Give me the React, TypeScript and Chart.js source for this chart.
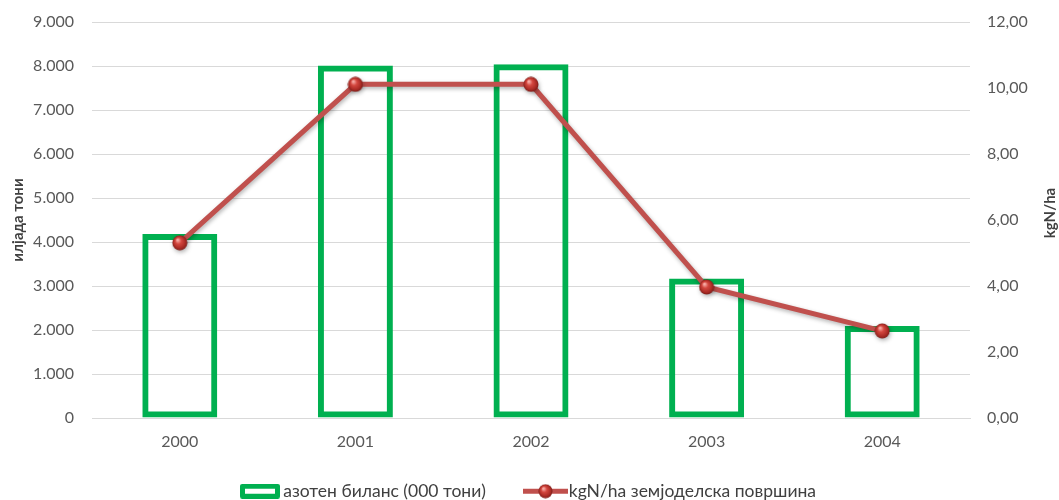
import React, { useEffect, useRef } from "react";
import { Chart, registerables } from "chart.js";

Chart.register(...registerables);

const categories = ["2000", "2001", "2002", "2003", "2004"];
const balanceValues = [4180, 8010, 8040, 3170, 2090];
const kgPerHaValues = [5.31, 10.11, 10.11, 3.97, 2.64];
const leftAxisRange = [0, 9000, 1000];
const rightAxisRange = [0, 12, 2];
const seriesLabels = ["азотен биланс (000 тони)", "kgN/ha земјоделска површина"];
const leftAxisTitle = "илјада тони";
const rightAxisTitle = "kgN/ha";

const FONT = "Lato, 'Noto Sans', sans-serif";
const GREEN = "#00B050";
const RED = "#C0504D";
const TEXT = "#595959";
const LEGEND_TEXT = "#404040";
const LEGEND_FONT_SIZE = 17.5;

function fmtThousands(v: number): string {
  return String(Math.round(v)).replace(/\B(?=(\d{3})+(?!\d))/g, ".");
}
function fmtDecimal(v: number): string {
  return v.toFixed(2).replace(".", ",");
}

function drawSphere(g: CanvasRenderingContext2D, cx: number, cy: number, r: number) {
  const grad = g.createRadialGradient(cx - r * 0.3, cy - r * 0.4, r * 0.1, cx, cy, r);
  grad.addColorStop(0, "#f6aaa4");
  grad.addColorStop(0.35, "#d4473f");
  grad.addColorStop(0.8, "#a82a24");
  grad.addColorStop(1, "#7a1c18");
  g.fillStyle = grad;
  g.beginPath();
  g.arc(cx, cy, r, 0, Math.PI * 2);
  g.fill();
}

function makeSphere(d: number): HTMLCanvasElement {
  const c = document.createElement("canvas");
  c.width = d;
  c.height = d;
  const g = c.getContext("2d")!;
  drawSphere(g, d / 2, d / 2, d / 2 - 0.5);
  return c;
}

function makeBarLegend(): HTMLCanvasElement {
  const c = document.createElement("canvas");
  c.width = 40;
  c.height = 15;
  const g = c.getContext("2d")!;
  g.strokeStyle = GREEN;
  g.lineWidth = 5;
  g.lineJoin = "round";
  g.strokeRect(2.5, 2.5, 35, 10);
  return c;
}

function makeLineLegend(): HTMLCanvasElement {
  const c = document.createElement("canvas");
  c.width = 45;
  c.height = 15;
  const g = c.getContext("2d")!;
  g.strokeStyle = RED;
  g.lineWidth = 5;
  g.beginPath();
  g.moveTo(0, 7.5);
  g.lineTo(45, 7.5);
  g.stroke();
  drawSphere(g, 22.5, 7.5, 7);
  return c;
}

export default function App() {
  const ref = useRef<HTMLCanvasElement | null>(null);

  useEffect(() => {
    document.body.style.margin = "0";
    const canvas = ref.current;
    if (!canvas) return;
    const sphere = makeSphere(16);
    const barLegend = makeBarLegend();
    const lineLegend = makeLineLegend();

    // legend geometry
    const f = LEGEND_FONT_SIZE;
    const boxW = 29;
    const firstItemX = 245.5;
    const secondItemX = 531;
    const mctx = document.createElement("canvas").getContext("2d")!;
    mctx.font = `${f}px ${FONT}`;
    const t1 = mctx.measureText(seriesLabels[0]).width;
    const legendPad = Math.max(4, secondItemX - (firstItemX + boxW + f / 2 + t1));
    const legendHeight = f + legendPad + 10;
    const bottomPad = -10;
    const xAxisHeight = 500 - bottomPad - 418 - legendHeight;

    const shadowPlugin = {
      id: "lineShadow",
      beforeDatasetDraw(chart: any, args: any) {
        if (args.index === 1) {
          const ctx = chart.ctx;
          ctx.save();
          ctx.shadowColor = "rgba(0,0,0,0.3)";
          ctx.shadowBlur = 4;
          ctx.shadowOffsetX = 1;
          ctx.shadowOffsetY = 2;
        }
      },
      afterDatasetDraw(chart: any, args: any) {
        if (args.index === 1) chart.ctx.restore();
      },
    };

    const layoutTweaks = {
      id: "layoutTweaks",
      afterLayout(chart: any) {
        if (chart.legend) {
          chart.legend.left = firstItemX - legendPad;
        }
        const x = chart.scales.x;
        if (x) {
          x.bottom = x.top + 45;
        }
      },
    };

    const rightTitle = {
      id: "rightTitle",
      afterDraw(chart: any) {
        const ctx = chart.ctx;
        const area = chart.chartArea;
        ctx.save();
        ctx.translate(1050, (area.top + area.bottom) / 2 - 7);
        ctx.rotate(-Math.PI / 2);
        ctx.font = `bold 15px ${FONT}`;
        ctx.fillStyle = "#404040";
        ctx.textAlign = "center";
        ctx.textBaseline = "middle";
        ctx.fillText(rightAxisTitle, 0, 0);
        ctx.restore();
      },
    };

    const chart = new Chart(canvas, {
      type: "bar",
      data: {
        labels: categories,
        datasets: [
          {
            type: "bar",
            label: seriesLabels[0],
            data: balanceValues,
            yAxisID: "y",
            backgroundColor: "rgba(0,0,0,0)",
            borderColor: GREEN,
            borderWidth: 6,
            borderSkipped: false,
            barPercentage: 0.427,
            categoryPercentage: 1,
            order: 2,
          } as any,
          {
            type: "line",
            label: seriesLabels[1],
            data: kgPerHaValues,
            yAxisID: "y1",
            borderColor: RED,
            borderWidth: 5,
            pointStyle: sphere,
            pointRadius: 8,
            tension: 0,
            order: 1,
          } as any,
        ],
      },
      options: {
        responsive: false,
        animation: false,
        layout: { padding: { top: 22, left: 0, right: 0, bottom: bottomPad } },
        plugins: {
          tooltip: { enabled: false },
          legend: {
            position: "bottom",
            align: "start",
            labels: {
              usePointStyle: true,
              pointStyleWidth: boxW,
              padding: legendPad,
              color: LEGEND_TEXT,
              font: { family: FONT, size: f },
              generateLabels: () => [
                {
                  text: seriesLabels[0],
                  pointStyle: barLegend,
                  fillStyle: "rgba(0,0,0,0)",
                  strokeStyle: "rgba(0,0,0,0)",
                  lineWidth: 0,
                  hidden: false,
                  datasetIndex: 0,
                  fontColor: LEGEND_TEXT,
                },
                {
                  text: seriesLabels[1],
                  pointStyle: lineLegend,
                  fillStyle: "rgba(0,0,0,0)",
                  strokeStyle: "rgba(0,0,0,0)",
                  lineWidth: 0,
                  hidden: false,
                  datasetIndex: 1,
                  fontColor: LEGEND_TEXT,
                },
              ],
            },
          },
        },
        scales: {
          x: {
            offset: true,
            grid: { display: false, drawTicks: false },
            border: { display: true, color: "#d9d9d9", width: 1 },
            ticks: { color: TEXT, font: { family: FONT, size: 16 }, padding: 14 },
            afterFit: (s: any) => {
              s.height = xAxisHeight;
            },
          },
          y: {
            position: "left",
            min: leftAxisRange[0],
            max: leftAxisRange[1],
            grid: { color: "#d9d9d9", lineWidth: 1, drawTicks: false },
            border: { display: false },
            ticks: {
              stepSize: leftAxisRange[2],
              color: TEXT,
              font: { family: FONT, size: 16 },
              padding: 18,
              callback: (v: any) => fmtThousands(Number(v)),
            },
            title: {
              display: true,
              text: leftAxisTitle,
              color: "#404040",
              font: { family: FONT, size: 15, weight: "bold" },
              padding: { top: 9, bottom: 0 },
            },
            afterFit: (s: any) => {
              s.width = 92;
              s.paddingTop = 5;
              s.paddingBottom = 5;
            },
          },
          y1: {
            position: "right",
            min: rightAxisRange[0],
            max: rightAxisRange[1],
            grid: { display: false, drawTicks: false },
            border: { display: false },
            ticks: {
              stepSize: rightAxisRange[2],
              color: TEXT,
              font: { family: FONT, size: 16 },
              padding: 17,
              callback: (v: any) => fmtDecimal(Number(v)),
            },
            afterFit: (s: any) => {
              s.width = 89;
              s.paddingTop = 5;
              s.paddingBottom = 5;
            },
          },
        },
      } as any,
      plugins: [shadowPlugin, layoutTweaks, rightTitle],
    });

    return () => chart.destroy();
  }, []);

  return (
    <div style={{ width: 1059, height: 500 }}>
      <canvas ref={ref} width={1059} height={500} style={{ display: "block" }} />
    </div>
  );
}
